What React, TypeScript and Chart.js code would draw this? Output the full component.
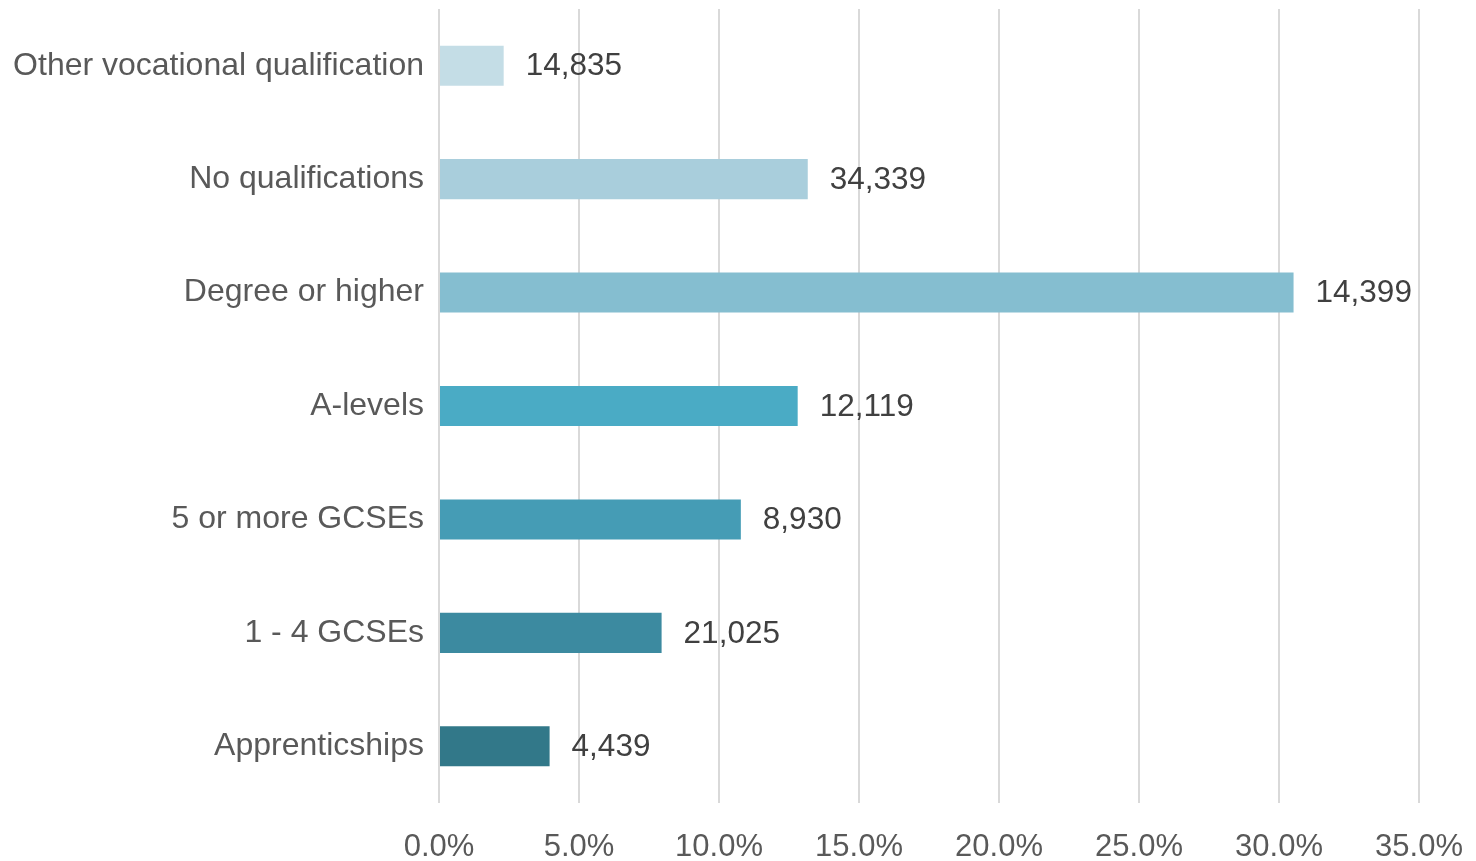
import React, { useEffect, useRef } from "react";
import { Chart, registerables } from "chart.js";

Chart.register(...registerables);

const categories = [
  "Other vocational qualification",
  "No qualifications",
  "Degree or higher",
  "A-levels",
  "5 or more GCSEs",
  "1 - 4 GCSEs",
  "Apprenticships",
];
const percentValues = [2.31, 13.17, 30.52, 12.81, 10.78, 7.95, 3.95];
const countLabels = ["14,835", "34,339", "14,399", "12,119", "8,930", "21,025", "4,439"];
const barColors = ["#C4DDE6", "#A9CEDC", "#85BED0", "#4AABC5", "#459CB5", "#3C8AA0", "#327889"];
const xTicks = [0, 5, 10, 15, 20, 25, 30, 35];

const FONT = '"Liberation Sans", Arial, sans-serif';

export default function App() {
  const ref = useRef<HTMLCanvasElement | null>(null);

  useEffect(() => {
    if (!ref.current) return;
    const labelPlugin = {
      id: "countLabels",
      afterDatasetsDraw(chart: any) {
        const ctx = chart.ctx;
        const meta = chart.getDatasetMeta(0);
        ctx.save();
        ctx.font = `31.5px ${FONT}`;
        ctx.fillStyle = "#404040";
        ctx.textAlign = "left";
        ctx.textBaseline = "middle";
        meta.data.forEach((bar: any, i: number) => {
          ctx.fillText(countLabels[i], bar.x + 22, bar.y + 1);
        });
        ctx.restore();
      },
    };
    const chart = new Chart(ref.current, {
      type: "bar",
      data: {
        labels: categories,
        datasets: [
          {
            data: percentValues,
            backgroundColor: barColors,
            borderWidth: 0,
            categoryPercentage: 1,
            barPercentage: 0.353,
          },
        ],
      },
      options: {
        indexAxis: "y",
        animation: false,
        responsive: false,
        layout: { padding: { top: 9, right: 57, left: 0, bottom: 0 } },
        plugins: {
          legend: { display: false },
          tooltip: { enabled: false },
        },
        scales: {
          x: {
            min: 0,
            max: 35,
            afterBuildTicks: (scale: any) => {
              scale.ticks = xTicks.map((v) => ({ value: v }));
            },
            afterFit: (scale: any) => {
              scale.height = 58;
              scale.paddingLeft = 0;
              scale.paddingRight = 0;
            },
            grid: { color: "#D9D9D9", lineWidth: 2, drawTicks: false },
            border: { display: false },
            ticks: {
              padding: 26,
              color: "#595959",
              font: { family: FONT, size: 31 },
              maxRotation: 0,
              callback: (v: any) => Number(v).toFixed(1) + "%",
            },
          },
          y: {
            afterFit: (scale: any) => {
              scale.width = 439;
              scale.paddingTop = 0;
              scale.paddingBottom = 0;
            },
            grid: { display: false, drawTicks: false },
            border: { display: false },
            ticks: {
              padding: 15,
              color: "#595959",
              font: { family: FONT, size: 32 },
            },
          },
        },
      },
      plugins: [labelPlugin],
    });
    return () => chart.destroy();
  }, []);

  return (
    <div style={{ position: "absolute", left: 0, top: 0, width: 1476, height: 861, background: "#fff" }}>
      <canvas ref={ref} width={1476} height={861} style={{ display: "block" }} />
    </div>
  );
}
